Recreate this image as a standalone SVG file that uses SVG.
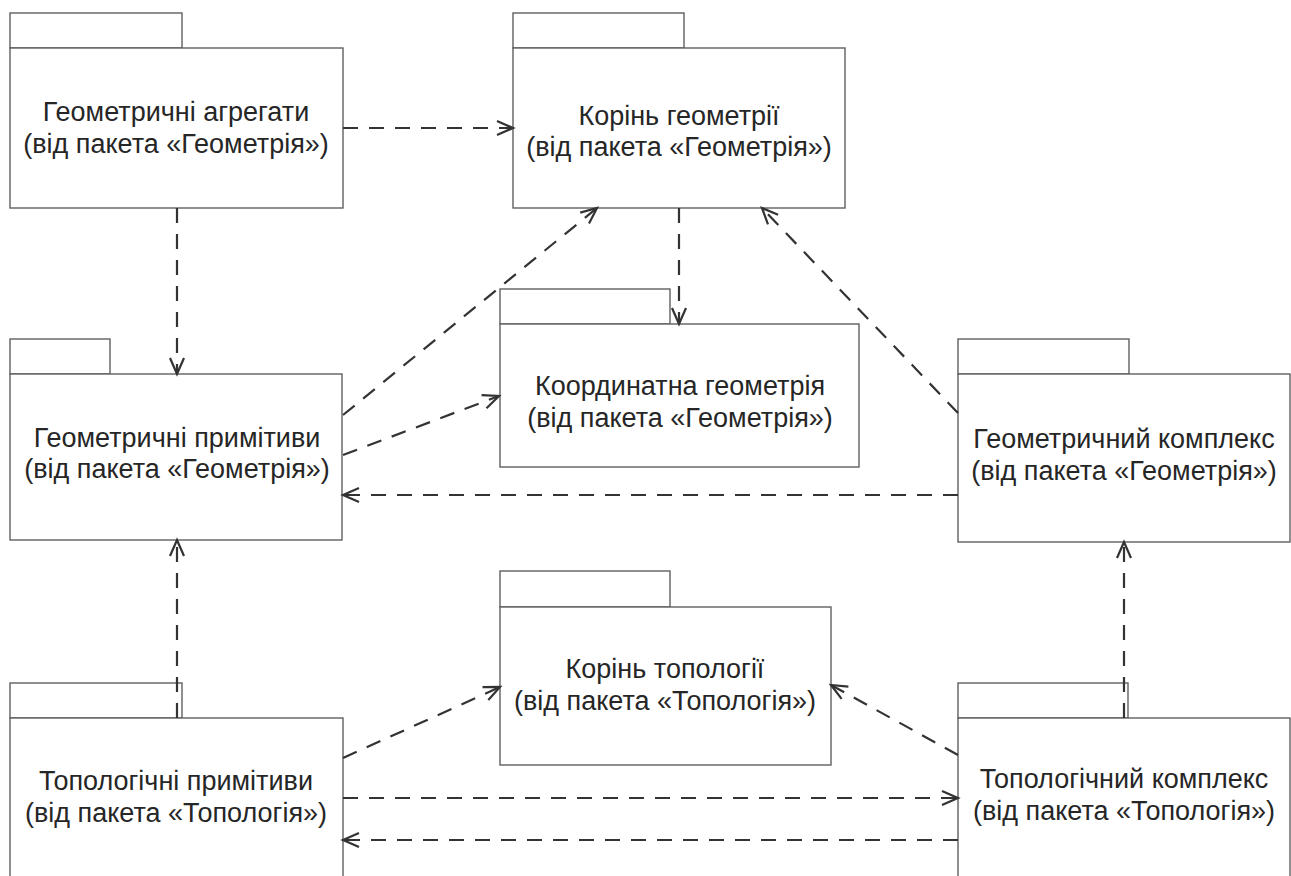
<svg xmlns="http://www.w3.org/2000/svg" width="1291" height="876" viewBox="0 0 1291 876">
<style>
.box{fill:#fff;stroke:#606060;stroke-width:1.4}
.t{font-family:"Liberation Sans",Arial,sans-serif;font-size:27px;fill:#262626;text-anchor:middle}
.c{fill:none;stroke:#333;stroke-width:2.2;stroke-dasharray:15 11}
</style>
<defs>
<marker id="arr" markerUnits="userSpaceOnUse" markerWidth="20" markerHeight="18" refX="17" refY="8" orient="auto" overflow="visible">
<path d="M1,1 L17,8 L1,15" fill="none" stroke="#333" stroke-width="2.2" stroke-dasharray="none"/>
</marker>
</defs>
<rect width="1291" height="876" fill="#fff"/>
<g id="n1">
<rect class="box" x="10" y="13" width="172" height="35"/>
<rect class="box" x="10" y="48" width="333" height="160"/>
<text class="t" x="176" y="121">Геометричні агрегати</text>
<text class="t" x="176" y="153">(від пакета «Геометрія»)</text>
</g>
<g id="n2">
<rect class="box" x="513" y="13" width="171" height="35"/>
<rect class="box" x="513" y="48" width="332" height="160"/>
<text class="t" x="679" y="125">Корінь геометрії</text>
<text class="t" x="679" y="156">(від пакета «Геометрія»)</text>
</g>
<g id="n3">
<rect class="box" x="500" y="289" width="170" height="35"/>
<rect class="box" x="500" y="324" width="359" height="143"/>
<text class="t" x="680" y="395">Координатна геометрія</text>
<text class="t" x="680" y="427">(від пакета «Геометрія»)</text>
</g>
<g id="n4">
<rect class="box" x="958" y="339" width="171" height="35"/>
<rect class="box" x="958" y="374" width="332" height="168"/>
<text class="t" x="1124" y="448">Геометричний комплекс</text>
<text class="t" x="1124" y="480">(від пакета «Геометрія»)</text>
</g>
<g id="n5">
<rect class="box" x="10" y="339" width="100" height="35"/>
<rect class="box" x="10" y="374" width="332" height="166"/>
<text class="t" x="177" y="447">Геометричні примітиви</text>
<text class="t" x="177" y="478">(від пакета «Геометрія»)</text>
</g>
<g id="n6">
<rect class="box" x="500" y="571" width="170" height="36"/>
<rect class="box" x="500" y="607" width="331" height="158"/>
<text class="t" x="665" y="678">Корінь топології</text>
<text class="t" x="665" y="710">(від пакета «Топологія»)</text>
</g>
<g id="n7">
<rect class="box" x="10" y="683" width="172" height="35"/>
<rect class="box" x="10" y="718" width="333" height="170"/>
<text class="t" x="176" y="790">Топологічні примітиви</text>
<text class="t" x="176" y="822">(від пакета «Топологія»)</text>
</g>
<g id="n8">
<rect class="box" x="958" y="683" width="170" height="35"/>
<rect class="box" x="958" y="718" width="332" height="170"/>
<text class="t" x="1124" y="788">Топологічний комплекс</text>
<text class="t" x="1124" y="820">(від пакета «Топологія»)</text>
</g>
<g id="connectors">
<path class="c" d="M343,128 L513,128" marker-end="url(#arr)"/>
<path class="c" d="M177,208 L177,374" marker-end="url(#arr)"/>
<path class="c" d="M679,208 L679,324" marker-end="url(#arr)"/>
<path class="c" d="M343,415 L597,208" marker-end="url(#arr)"/>
<path class="c" d="M343,455 L499,396" marker-end="url(#arr)"/>
<path class="c" d="M958,413 L762,208" marker-end="url(#arr)"/>
<path class="c" d="M958,495 L343,495" marker-end="url(#arr)"/>
<path class="c" d="M177,718 L177,540" marker-end="url(#arr)"/>
<path class="c" d="M1124,718 L1124,542" marker-end="url(#arr)"/>
<path class="c" d="M343,758 L500,687" marker-end="url(#arr)"/>
<path class="c" d="M958,755 L831,685" marker-end="url(#arr)"/>
<path class="c" d="M343,798 L958,798" marker-end="url(#arr)"/>
<path class="c" d="M958,840 L343,840" marker-end="url(#arr)"/>
</g>
</svg>
